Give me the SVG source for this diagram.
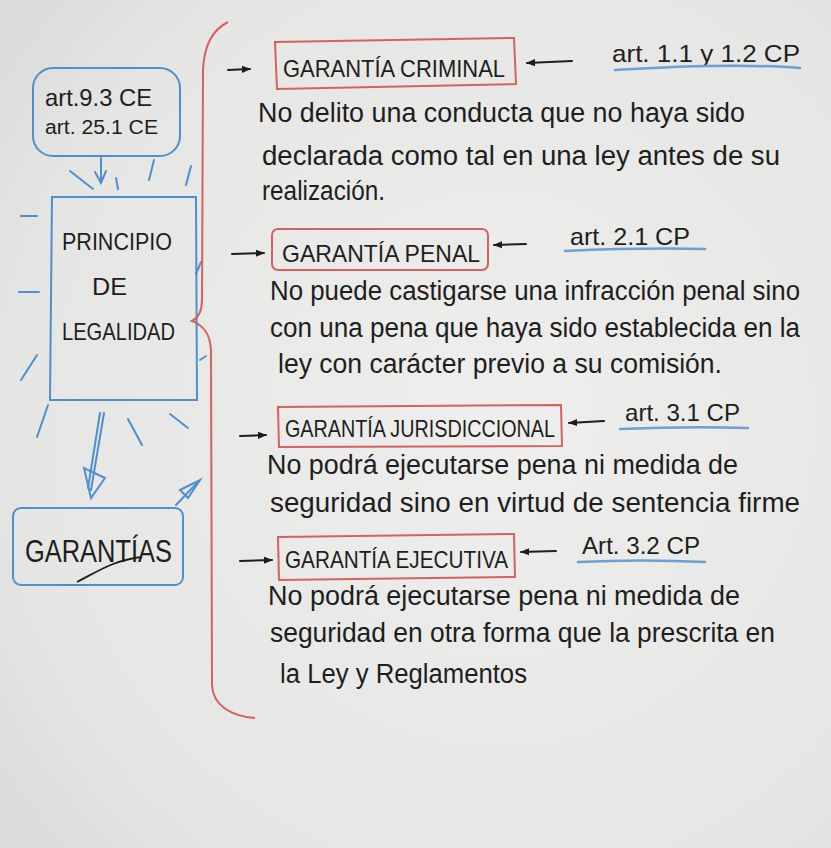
<svg xmlns="http://www.w3.org/2000/svg" width="831" height="848" viewBox="0 0 831 848">
<defs>
<radialGradient id="bg" cx="0.6" cy="0.5" r="0.8">
<stop offset="0" stop-color="#eeeeec"/>
<stop offset="0.7" stop-color="#e6e6e4"/>
<stop offset="1" stop-color="#d9d9d8"/>
</radialGradient>
<marker id="ah" viewBox="0 0 10 10" refX="9" refY="5" markerWidth="5" markerHeight="5" orient="auto" markerUnits="userSpaceOnUse">
<path d="M0,1 L10,5 L0,9 z" fill="#1c1c1c"/>
</marker>
<marker id="ahk" viewBox="0 0 10 10" refX="9" refY="5" markerWidth="9" markerHeight="9" orient="auto" markerUnits="userSpaceOnUse">
<path d="M0,1 L10,5 L0,9 z" fill="#1c1c1c"/>
</marker>
</defs>
<style>
.t{font-family:"Liberation Sans","DejaVu Sans",sans-serif;fill:#1e1e1e}
.body{font-size:27px}
.hdr{font-size:24px}
.ref{font-size:24px}
.red{fill:none;stroke:#d6615e;stroke-width:2}
.blue{fill:none;stroke:#4f8fd0;stroke-width:2;stroke-linecap:round}
.ul{fill:none;stroke:#6d9fd3;stroke-width:2.5;stroke-linecap:round}
.ar{fill:none;stroke:#1e1e1e;stroke-width:2;stroke-linecap:round}
</style>
<rect width="831" height="848" fill="url(#bg)"/>

<g id="art-ce">
<rect x="33" y="68" width="147" height="88" rx="20" class="blue"/>
<text class="t" x="45" y="106" font-size="24" textLength="107" lengthAdjust="spacingAndGlyphs">art.9.3 CE</text>
<text class="t" x="45" y="134" font-size="20" textLength="113" lengthAdjust="spacingAndGlyphs">art. 25.1 CE</text>
</g>

<g id="principio">
<path d="M52,197 L196,197 L197,400 L50,400 Z" class="blue"/>
<text class="t" x="62" y="250" font-size="24" textLength="110" lengthAdjust="spacingAndGlyphs">PRINCIPIO</text>
<text class="t" x="92" y="295" font-size="24" textLength="35" lengthAdjust="spacingAndGlyphs">DE</text>
<text class="t" x="62" y="340" font-size="24" textLength="113" lengthAdjust="spacingAndGlyphs">LEGALIDAD</text>
</g>

<g id="rays" class="blue" stroke-width="1.6">
<line x1="70" y1="171" x2="93" y2="189"/>
<line x1="116" y1="178" x2="118" y2="189"/>
<line x1="154" y1="160" x2="149" y2="180"/>
<line x1="191" y1="166" x2="186" y2="185"/>
<line x1="21" y1="216" x2="37" y2="216"/>
<line x1="19" y1="292" x2="39" y2="292"/>
<line x1="37" y1="355" x2="21" y2="380"/>
<line x1="201" y1="262" x2="196" y2="274"/>
<line x1="206" y1="356" x2="200" y2="360"/>
<line x1="48" y1="405" x2="37" y2="437"/>
<line x1="128" y1="419" x2="142" y2="445"/>
<line x1="170" y1="414" x2="188" y2="428"/>
</g>

<g id="garantias">
<rect x="13" y="508" width="170" height="77" rx="8" class="blue"/>
<text class="t" x="25" y="562" font-size="31" textLength="147" lengthAdjust="spacingAndGlyphs">GARANTÍAS</text>
<path d="M77,582 C100,570 115,560 142,557" fill="none" stroke="#1e1e1e" stroke-width="1.8"/>
</g>

<g id="brace">
<path d="M228,22 C212,30 204,45 203,70 L202,300 C202,312 198,318 192,321 C200,324 210,330 211,350 L212,685 C213,705 230,716 255,718" fill="none" stroke="#d6615e" stroke-width="2"/>
</g>

<g id="connectors">
<line x1="101" y1="158" x2="101" y2="180" class="blue" stroke-width="2.5"/>
<path d="M95,172 L101,183 L106,171" class="blue" stroke-width="2.5"/>
<line x1="104" y1="413" x2="91" y2="490" class="blue"/>
<line x1="100" y1="413" x2="88" y2="488" class="blue"/>
<path d="M84,468 L91,498 L105,478 Z" class="blue"/>
<line x1="176" y1="505" x2="196" y2="484" class="blue"/>
<path d="M180,490 L200,480 L188,498 Z" class="blue" fill="#4f8fd0"/>
<line x1="228" y1="70" x2="250" y2="69" class="ar" marker-end="url(#ahk)"/>
<line x1="572" y1="61" x2="527" y2="63" class="ar" marker-end="url(#ahk)"/>
<line x1="232" y1="254" x2="264" y2="253" class="ar" marker-end="url(#ahk)"/>
<line x1="526" y1="244" x2="494" y2="245" class="ar" marker-end="url(#ahk)"/>
<line x1="240" y1="436" x2="266" y2="435" class="ar" marker-end="url(#ahk)"/>
<line x1="604" y1="421" x2="569" y2="423" class="ar" marker-end="url(#ahk)"/>
<line x1="240" y1="561" x2="272" y2="560" class="ar" marker-end="url(#ahk)"/>
<line x1="556" y1="551" x2="521" y2="552" class="ar" marker-end="url(#ahk)"/>
</g>

<g id="g-criminal">
<path d="M275,42 L514,38 L516,84 L277,89 Z" class="red"/>
<text class="t hdr" x="283" y="77" textLength="222" lengthAdjust="spacingAndGlyphs">GARANTÍA CRIMINAL</text>
<text class="t ref" x="612" y="62" textLength="188" lengthAdjust="spacingAndGlyphs">art. 1.1 y 1.2 CP</text>
<path d="M615,70 C680,66 750,64 800,68" class="ul"/>
<text class="t body" x="258" y="122" textLength="487" lengthAdjust="spacingAndGlyphs">No delito una conducta que no haya sido</text>
<text class="t body" x="262" y="165" textLength="518" lengthAdjust="spacingAndGlyphs">declarada como tal en una ley antes de su</text>
<text class="t body" x="262" y="200" textLength="123" lengthAdjust="spacingAndGlyphs">realización.</text>
</g>

<g id="g-penal">
<rect x="272" y="229" width="216" height="41" rx="6" class="red"/>
<text class="t hdr" x="282" y="262" textLength="198" lengthAdjust="spacingAndGlyphs">GARANTÍA PENAL</text>
<text class="t ref" x="570" y="245" textLength="120" lengthAdjust="spacingAndGlyphs">art. 2.1 CP</text>
<path d="M565,251 C610,249 660,248 705,249" class="ul"/>
<text class="t body" x="270" y="300" textLength="530" lengthAdjust="spacingAndGlyphs">No puede castigarse una infracción penal sino</text>
<text class="t body" x="270" y="337" textLength="530" lengthAdjust="spacingAndGlyphs">con una pena que haya sido establecida en la</text>
<text class="t body" x="278" y="373" textLength="444" lengthAdjust="spacingAndGlyphs">ley con carácter previo a su comisión.</text>
</g>

<g id="g-jurisdiccional">
<path d="M278,407 L561,405 L562,446 L279,447 Z" class="red"/>
<text class="t hdr" x="285" y="437" textLength="270" lengthAdjust="spacingAndGlyphs">GARANTÍA JURISDICCIONAL</text>
<text class="t ref" x="625" y="421" textLength="115" lengthAdjust="spacingAndGlyphs">art. 3.1 CP</text>
<path d="M620,429 C670,427 710,427 748,428" class="ul"/>
<text class="t body" x="267" y="474" textLength="471" lengthAdjust="spacingAndGlyphs">No podrá ejecutarse pena ni medida de</text>
<text class="t body" x="270" y="512" textLength="530" lengthAdjust="spacingAndGlyphs">seguridad sino en virtud de sentencia firme</text>
</g>

<g id="g-ejecutiva">
<path d="M278,537 L514,534 L515,577 L279,580 Z" class="red"/>
<text class="t hdr" x="285" y="568" textLength="223" lengthAdjust="spacingAndGlyphs">GARANTÍA EJECUTIVA</text>
<text class="t ref" x="582" y="554" textLength="118" lengthAdjust="spacingAndGlyphs">Art. 3.2 CP</text>
<path d="M578,562 C620,560 665,560 705,562" class="ul"/>
<text class="t body" x="268" y="605" textLength="472" lengthAdjust="spacingAndGlyphs">No podrá ejecutarse pena ni medida de</text>
<text class="t body" x="270" y="642" textLength="505" lengthAdjust="spacingAndGlyphs">seguridad en otra forma que la prescrita en</text>
<text class="t body" x="280" y="683" textLength="247" lengthAdjust="spacingAndGlyphs">la Ley y Reglamentos</text>
</g>
</svg>
